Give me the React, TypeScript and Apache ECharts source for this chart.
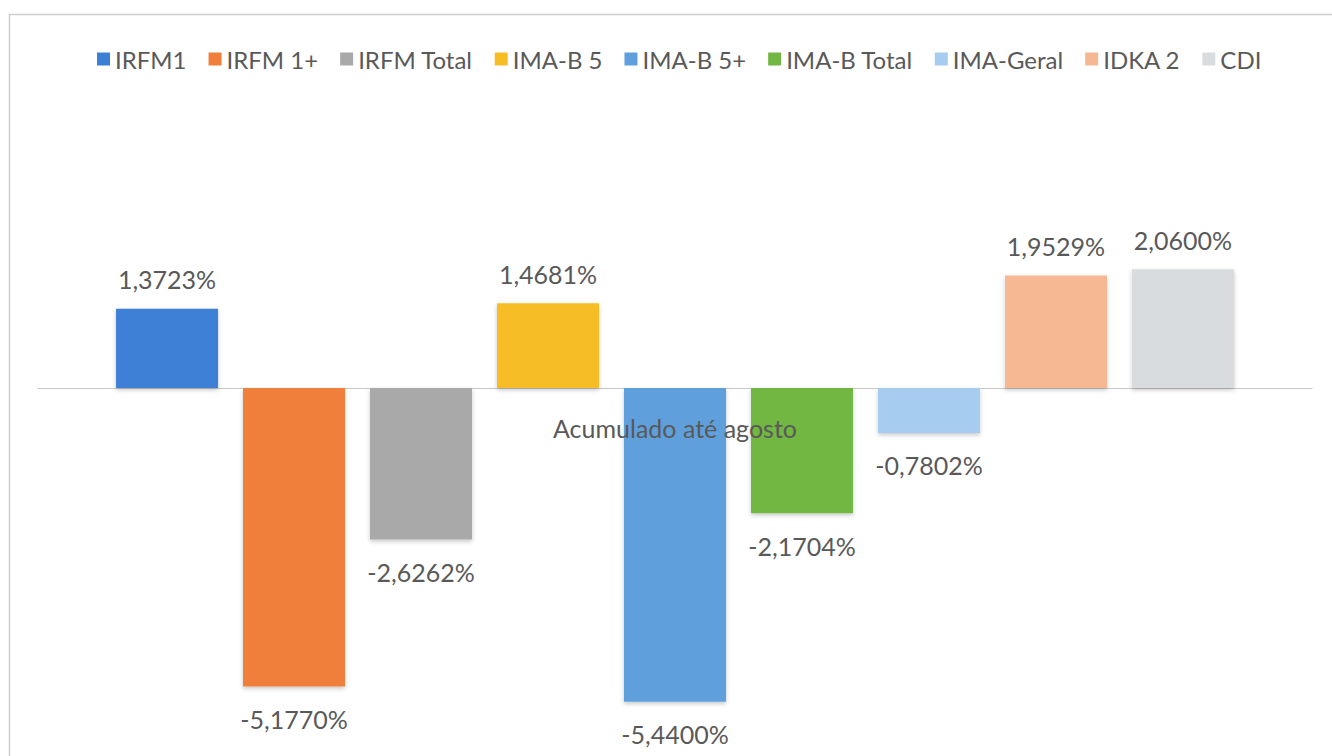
import React, { useEffect, useRef } from "react";
import * as echarts from "echarts";

const category = ["Acumulado até agosto"];
const seriesNames = ["IRFM1", "IRFM 1+", "IRFM Total", "IMA-B 5", "IMA-B 5+", "IMA-B Total", "IMA-Geral", "IDKA 2", "CDI"];
const seriesValues = [1.3723, -5.177, -2.6262, 1.4681, -5.44, -2.1704, -0.7802, 1.9529, 2.06];
const seriesColors = ["#3c80d6", "#ef7f3a", "#a9a9a9", "#f6bd25", "#5fa0dc", "#72b743", "#a6cdf0", "#f6b893", "#d9dcdf"];

const FONT = "Lato";
const TEXT = "#595959";

export default function App() {
  const ref = useRef<HTMLDivElement>(null);
  useEffect(() => {
    const chart = echarts.init(ref.current!, undefined, { renderer: "svg" });
    const fmt = (v: number) => v.toFixed(4).replace(".", ",") + "%";
    const border = {
      id: "border",
      type: "rect",
      shape: { x: 9.5, y: 14.5, width: 1400, height: 800 },
      style: { fill: "none", stroke: "#cfcfcf", lineWidth: 1.5 },
      z: -10,
    };
    chart.setOption({
      animation: false,
      backgroundColor: "#ffffff",
      textStyle: { fontFamily: FONT },
      graphic: [border],
      legend: {
        top: 42,
        left: 92,
        icon: "rect",
        itemWidth: 13,
        itemHeight: 13,
        itemGap: 22,
        textStyle: { color: TEXT, fontSize: 24, fontFamily: FONT },
        data: seriesNames,
      },
      grid: { left: 38, right: 20, top: 215, bottom: 22, containLabel: false, outerBoundsMode: "none" },
      xAxis: {
        type: "category",
        data: category,
        axisLine: { show: true, onZero: true, lineStyle: { color: "#c8c8c8", width: 1.2 } },
        axisTick: { show: false },
        axisLabel: { show: false },
      },
      yAxis: {
        type: "value",
        min: -6,
        max: 3,
        show: false,
        splitLine: { show: false },
      },
      series: seriesNames.map((name, i) => {
        const v = seriesValues[i];
        return {
          name,
          type: "bar",
          barWidth: 102,
          barGap: "24.5%",
          itemStyle: {
            color: seriesColors[i],
            shadowBlur: 4,
            shadowColor: "rgba(0,0,0,0.22)",
            shadowOffsetY: 2,
          },
          label: {
            show: true,
            position: v >= 0 ? "top" : "bottom",
            distance: v >= 0 ? 17 : 20,
            color: TEXT,
            fontSize: 25,
            fontFamily: FONT,
            formatter: (p: any) => fmt(p.value),
          },
          data: [v],
        };
      }),
    });
    const pt = chart.convertToPixel({ xAxisIndex: 0, yAxisIndex: 0 }, [0, 0]) as number[];
    chart.setOption({
      graphic: [
        border,
        {
          id: "catLabel",
          type: "text",
          x: pt[0],
          y: pt[1] + 40,
          z: 100,
          style: {
            text: category[0],
            fill: TEXT,
            font: `25px ${FONT}`,
            align: "center",
            verticalAlign: "middle",
          },
        },
      ],
    });
    return () => chart.dispose();
  }, []);
  return (
    <div
      ref={ref}
      style={{ position: "fixed", left: 0, top: 0, width: 1332, height: 756, background: "#fff" }}
    />
  );
}
